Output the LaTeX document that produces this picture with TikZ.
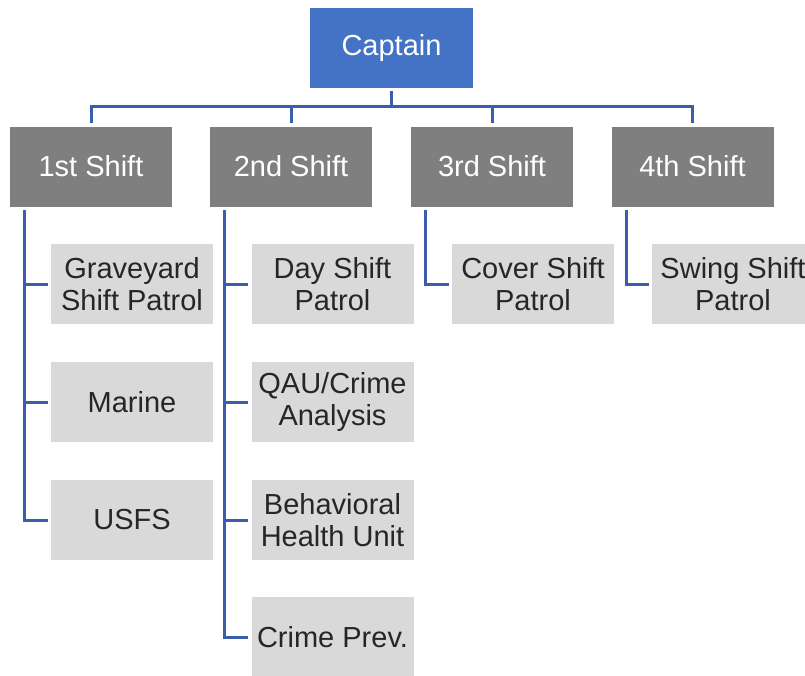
\documentclass[tikz,border=0pt]{standalone}
\usepackage{fontspec}
\setmainfont{Liberation Sans}
\definecolor{capblue}{HTML}{4472C4}
\definecolor{shiftgray}{HTML}{7F7F7F}
\definecolor{unitgray}{HTML}{D9D9D9}
\definecolor{linkblue}{HTML}{3A5DAE}
\definecolor{unittext}{HTML}{262626}
\tikzset{
  box/.style={rectangle, minimum width=162pt, minimum height=80pt, inner sep=0pt, align=center,
    font=\fontsize{29}{32}\selectfont},
  capbox/.style={box, fill=capblue, text=white, minimum width=163pt},
  shiftbox/.style={box, fill=shiftgray, text=white},
  unitbox/.style={box, fill=unitgray, text=unittext},
  conn/.style={draw=linkblue, line width=3pt, shorten <=3pt, shorten >=3pt},
}
\begin{document}
\begin{tikzpicture}[x=1pt, y=-1pt]
\useasboundingbox (0,0) rectangle (805,675);
\clip (0,0) rectangle (805,675);
\node[capbox] (cap) at (391.5,48) {Captain};
\node[shiftbox] (s1) at (91,166.5) {1st Shift};
\node[shiftbox] (s2) at (291,166.5) {2nd Shift};
\node[shiftbox] (s3) at (492,166.5) {3rd Shift};
\node[shiftbox] (s4) at (692.5,166.5) {4th Shift};
\coordinate (bus) at (391.5,106);
\node[unitbox] (c11) at (132,284) {Graveyard\\Shift Patrol};
\node[unitbox] (c12) at (132,402) {Marine};
\node[unitbox] (c13) at (132,520) {USFS};
\node[unitbox] (c21) at (332.5,284) {Day Shift\\Patrol};
\node[unitbox] (c22) at (332.5,402) {QAU/Crime\\Analysis};
\node[unitbox] (c23) at (332.5,520) {Behavioral\\Health Unit};
\node[unitbox] (c24) at (332.5,637) {Crime Prev.};
\node[unitbox] (c31) at (533,284) {Cover Shift\\Patrol};
\node[unitbox] (c41) at (733,284) {Swing Shift\\Patrol};
\draw[conn, shorten >=0pt] (cap.south) -- (bus);
\draw[conn, shorten <=0pt] (bus) -| (s1.north);
\draw[conn, shorten <=0pt] (bus) -| (s2.north);
\draw[conn, shorten <=0pt] (bus) -| (s3.north);
\draw[conn, shorten <=0pt] (bus) -| (s4.north);
\draw[conn] ([xshift=15pt]s1.south west) |- (c11.west);
\draw[conn] ([xshift=15pt]s1.south west) |- (c12.west);
\draw[conn] ([xshift=15pt]s1.south west) |- (c13.west);
\draw[conn] ([xshift=15pt]s2.south west) |- (c21.west);
\draw[conn] ([xshift=15pt]s2.south west) |- (c22.west);
\draw[conn] ([xshift=15pt]s2.south west) |- (c23.west);
\draw[conn] ([xshift=15pt]s2.south west) |- (c24.west);
\draw[conn] ([xshift=15pt]s3.south west) |- (c31.west);
\draw[conn] ([xshift=15pt]s4.south west) |- (c41.west);
\end{tikzpicture}
\end{document}
